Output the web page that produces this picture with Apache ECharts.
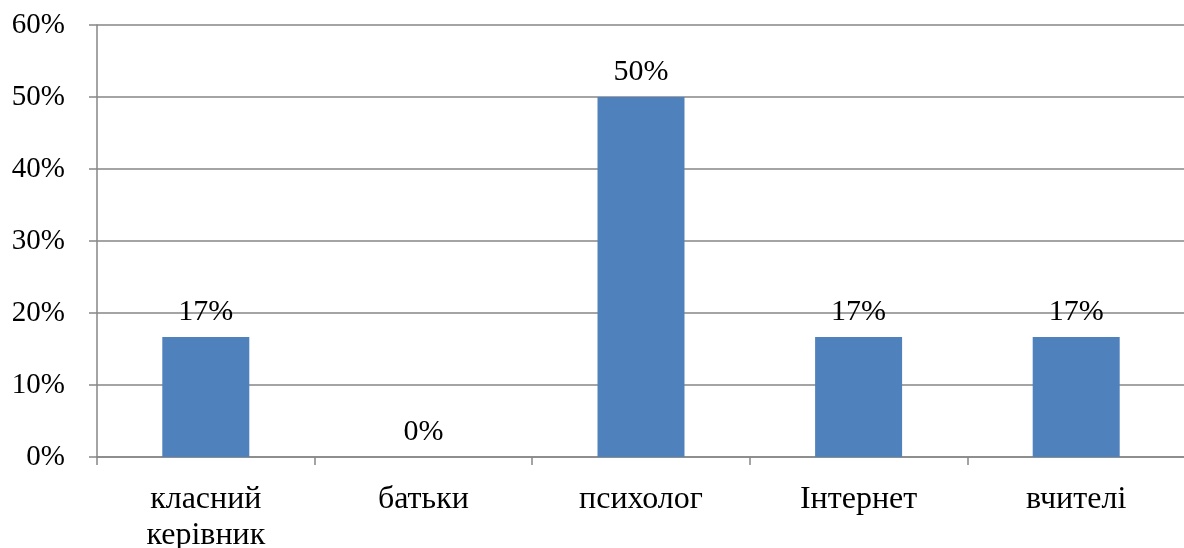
<!DOCTYPE html>
<html><head><meta charset="utf-8">
<script src="https://cdn.jsdelivr.net/npm/echarts@6/dist/echarts.min.js"></script>
<style>html,body{margin:0;padding:0;background:#fff}#c{width:1184px;height:548px}</style>
</head><body><div id="c"></div>
<script>
const categories = ['класний\nкерівник', 'батьки', 'психолог', 'Інтернет', 'вчителі'];
const values = [16.67, 0, 50, 16.67, 16.67];
const valueLabels = ['17%', '0%', '50%', '17%', '17%'];
const yMin = 0, yMax = 60, yStep = 10;

const font = '"Liberation Serif", "Times New Roman", serif';
const chart = echarts.init(document.getElementById('c'), null, {renderer: 'canvas'});
chart.setOption({
  animation: false,
  backgroundColor: '#fff',
  grid: {left: 97, top: 25, width: 1088, height: 432, containLabel: false, outerBoundsMode: 'none'},
  xAxis: {
    type: 'category', data: categories,
    axisLine: {lineStyle: {color: '#868686', width: 1.5}},
    axisTick: {show: true, length: 8, inside: false, alignWithLabel: false, lineStyle: {color: '#868686', width: 1.5}},
    axisLabel: {color: '#000', fontFamily: font, fontSize: 32, margin: 25, lineHeight: 36, interval: 0}
  },
  yAxis: {
    type: 'value', min: yMin, max: yMax, interval: yStep,
    axisLine: {show: true, lineStyle: {color: '#868686', width: 1.5}},
    axisTick: {show: true, length: 8, lineStyle: {color: '#868686', width: 1.5}},
    splitLine: {lineStyle: {color: '#868686', width: 1.5}},
    axisLabel: {color: '#000', fontFamily: font, fontSize: 29, margin: 32, formatter: v => v + '%'}
  },
  series: [{
    type: 'bar', data: values, barWidth: 87,
    itemStyle: {color: '#4F81BD'},
    label: {show: true, position: 'top', distance: 10, color: '#000', fontFamily: font, fontSize: 30,
      formatter: p => valueLabels[p.dataIndex]}
  }]
});
</script></body></html>
